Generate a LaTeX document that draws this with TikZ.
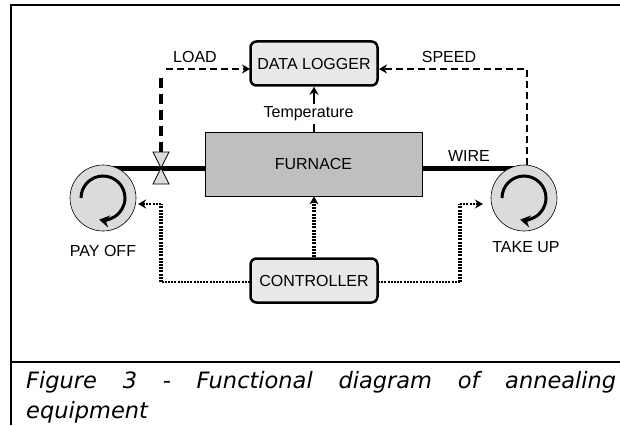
\documentclass[tikz,border=0pt]{standalone}
\usepackage{fontspec}
\setmainfont{Liberation Sans}
\newfontfamily\capfont{DejaVu Sans}
\usetikzlibrary{arrows.meta}
\tikzset{
 boxnode/.style={draw,line width=2.5pt,rounded corners=6pt,fill=gray!18,minimum width=127pt,minimum height=44pt,inner sep=0pt,font=\fontsize{16}{18}\selectfont},
 reel/.style={draw,line width=.6pt,circle,fill=gray!28,minimum size=66pt,inner sep=0pt},
 lbl/.style={inner sep=0pt,font=\fontsize{16}{18}\selectfont},
 dashline/.style={line width=1.8pt,dash pattern=on 7pt off 4pt},
 dotline/.style={line width=2pt,dash pattern=on 2pt off 1.2pt},
 dotthick/.style={line width=3.2pt,dash pattern=on 2pt off 1.2pt},
 tip/.style={-{Stealth[length=8pt,width=9pt]}},
 spin/.style={line width=3pt,-{Stealth[length=10pt,width=12pt]}},
}
\begin{document}
\begin{tikzpicture}[x=1pt,y=-1pt]
\useasboundingbox (0,0) rectangle (620,425);
%frame
\draw[line width=2pt] (620,5)--(11,5)--(11,425);
\draw[line width=2pt] (11,362)--(620,362);
%main boxes
\node[boxnode] (logger) at (314,63.5) {DATA LOGGER};
\node[boxnode] (controller) at (314,280.5) {CONTROLLER};
\node[draw,line width=.7pt,fill=gray!50,minimum width=217pt,minimum height=64pt,inner sep=0pt,font=\fontsize{16}{18}\selectfont] (furnace) at (313.5,164) {FURNACE};
\coordinate (valve) at (161,168);
\coordinate (valvetop) at (161,152);
\coordinate (speedtap) at (527,165);
\coordinate (loadtop) at (161,75);
\coordinate (loadcorner) at (166,69);
\coordinate (speedcorner) at (527,69);
\coordinate (loadend) at (250,69);
\coordinate (speedend) at (379,69);
\coordinate (ctrlleft) at (161,204);
\coordinate (ctrlright) at (460,204);
\coordinate (lowleft) at (161,282);
\coordinate (lowright) at (460,282);
\coordinate (lowwest) at (250,282);
\coordinate (loweast) at (378,282);
\coordinate (payoffend) at (138,204);
\coordinate (takeupend) at (483,204);
%wire
\draw[line width=5pt] (furnace.west |- valve) -- (103,168);
\draw[line width=5pt] (furnace.east |- valve) -- (524,168);
\node[reel] (payoff) at (103,198) {};
\node[reel] (takeup) at (524,198) {};
\draw[spin] (payoff.center)++(-22,0) arc[start angle=180,end angle=-100,radius=22pt];
\draw[spin] (takeup.center)++(-22,0) arc[start angle=180,end angle=-100,radius=22pt];
%valve
\draw[line width=.7pt,fill=gray!28] (valve)--(153,152)--(169,152)--cycle;
\draw[line width=.7pt,fill=gray!28] (valve)--(153,184)--(169,184)--cycle;
%signals
\draw[line width=3.2pt,dash pattern=on 10pt off 6pt] (valvetop) -- (loadtop);
\draw[dashline,tip] (loadcorner) -- (loadend);
\draw[dashline,tip] (speedtap) -- (speedcorner) -- (speedend);
\draw[line width=1.8pt,tip] (furnace.north -| logger.south) -- (logger.south);
\node[lbl,fill=white,inner ysep=3pt] (templabel) at (308.5,114) {Temperature};
\draw[dotthick,tip] (controller.north) -- (furnace.south -| controller.north);
\draw[dotline] (lowwest) -- (lowleft);
\draw[dotthick] (lowleft) -- (ctrlleft);
\draw[dotline,tip] (ctrlleft) -- (payoffend);
\draw[dotline] (loweast) -- (lowright);
\draw[dotthick] (lowright) -- (ctrlright);
\draw[dotline,tip] (ctrlright) -- (takeupend);
%labels
\node[lbl] (loadlabel) at (195,57) {LOAD};
\node[lbl] (speedlabel) at (449,57) {SPEED};
\node[lbl] (wirelabel) at (469,156) {WIRE};
\node[lbl] (payofflabel) at (103,251) {PAY OFF};
\node[lbl] (takeuplabel) at (526,247) {TAKE UP};
%caption
\node[anchor=north west,inner sep=0pt,text width=590pt,align=justify,font=\capfont\itshape\fontsize{22.5}{30}\selectfont] (caption) at (26,371) {Figure 3 - Functional diagram of annealing\linebreak equipment};
\end{tikzpicture}
\end{document}
